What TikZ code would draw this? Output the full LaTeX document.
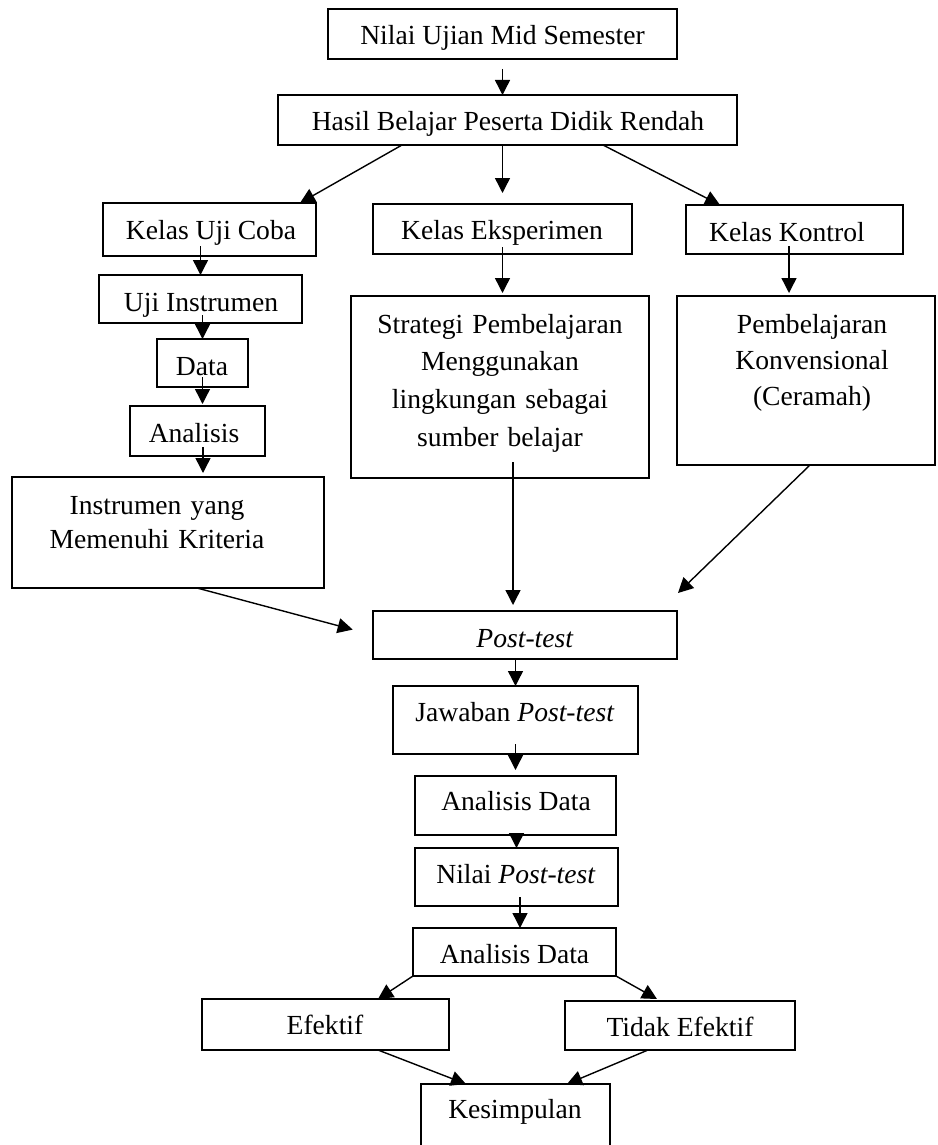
\documentclass[tikz,border=0pt]{standalone}
\usepackage{fontspec}
\setmainfont{Liberation Serif}
\usetikzlibrary{arrows.meta,calc}
\tikzset{
  box/.style={draw=black, line width=1.6pt, inner sep=0pt, outer sep=0pt, rectangle},
  txt/.style={inner sep=0pt, outer sep=0pt, font=\fontsize{27.6pt}{37.5pt}\selectfont},
  mtxt/.style={txt, align=center, text width=#1},
  arr/.style={line width=1.4pt, -{Triangle[length=15pt,width=15pt]}}
}
\newcommand{\bxn}[5]{\node[box, minimum width={(#4-#2)*1pt}, minimum height={(#5-#3)*1pt}] (#1) at ({(#2+#4)/2},{(#3+#5)/2}) {};}
\begin{document}
\begin{tikzpicture}[x=1pt,y=-1pt]
\useasboundingbox (0,0) rectangle (937,1145);
\clip (0,0) rectangle (937,1145);
% boxes
\bxn{n1}{328}{9}{677}{59}
\bxn{hasil}{278}{95}{737}{145}
\bxn{ujicoba}{103}{203}{316}{256}
\bxn{eksp}{373}{204}{632}{254}
\bxn{kontrol}{686}{205}{903}{254}
\bxn{ujiinst}{99}{275}{302}{323}
\bxn{data}{157}{339}{248}{387}
\bxn{analisis}{130}{406}{265}{456}
\bxn{instr}{12}{477}{324}{588}
\bxn{strat}{351}{296}{649}{478}
\bxn{konv}{677}{296}{935}{465}
\bxn{post}{373}{611}{677}{659}
\bxn{jaw}{393}{686}{638}{754}
\bxn{adA}{415}{776}{616}{835}
\bxn{nilai}{415}{848}{618}{906}
\bxn{adB}{413}{928}{616}{976}
\bxn{efektif}{202}{999}{449}{1050}
\bxn{tidak}{565}{1001}{795}{1050}
\bxn{kes}{421}{1084}{610}{1175}
% texts
\node[txt, anchor=base] (t1) at (502.5,45) {Nilai Ujian Mid Semester};
\node[txt, anchor=base] (t2) at (508,131) {Hasil Belajar Peserta Didik Rendah};
\node[txt, anchor=base] (t3) at (211,239) {Kelas Uji Coba};
\node[txt, anchor=base] (t4) at (502,239) {Kelas Eksperimen};
\node[txt, anchor=base] (t5) at (787,241) {Kelas Kontrol};
\node[txt, anchor=base] (t6) at (201,311) {Uji Instrumen};
\node[txt, anchor=base] (t7) at (202,375) {Data};
\node[txt, anchor=base] (t8) at (194,442) {Analisis};
\node[mtxt=300pt, anchor=base, font=\fontsize{27.6pt}{34.5pt}\selectfont] (t9) at (157,514) {Instrumen yang\\Memenuhi Kriteria};
\node[mtxt=290pt, anchor=base, font=\fontsize{27.6pt}{37.7pt}\selectfont] (t10) at (500,333) {Strategi Pembelajaran\\Menggunakan\\lingkungan sebagai\\sumber belajar};
\node[mtxt=250pt, anchor=base, font=\fontsize{27.6pt}{36pt}\selectfont] (t11) at (812,333) {Pembelajaran\\Konvensional\\(Ceramah)};
\node[txt, anchor=base] (t12) at (525,647) {\textit{Post-test}};
\node[txt, anchor=base] (t13) at (515,721) {Jawaban \textit{Post-test}};
\node[txt, anchor=base] (t14) at (516,810) {Analisis Data};
\node[txt, anchor=base] (t15) at (516,883) {Nilai \textit{Post-test}};
\node[txt, anchor=base] (t16) at (514.5,963) {Analisis Data};
\node[txt, anchor=base] (t17) at (325,1034) {Efektif};
\node[txt, anchor=base] (t18) at (680,1036) {Tidak Efektif};
\node[txt, anchor=base] (t19) at (515,1118) {Kesimpulan};
% connectors
\draw[arr, shorten <=10pt] (n1.south) -- (n1.south |- hasil.north);
\draw[arr] ($(hasil.south west)+(124,0)$) -- ($(ujicoba.north west)+(197,0)$);
\draw[arr, shorten >=11pt] (eksp.north |- hasil.south) -- (eksp.north);
\draw[arr] ($(hasil.south west)+(325,0)$) -- ($(kontrol.north west)+(34,0)$);
\draw[arr, shorten <=-10pt] (ujiinst.north |- ujicoba.south) -- (ujiinst.north);
\draw[arr, shorten <=-7pt, shorten >=3pt] (eksp.south) -- (eksp.south |- strat.north);
\draw[arr, shorten <=-8pt, shorten >=3pt] ($(kontrol.south)+(-5.5,0)$) -- ($(kontrol.south |- konv.north)+(-5.5,0)$);
\draw[arr, shorten <=-8pt] (data.north |- ujiinst.south) -- (data.north);
\draw[arr, shorten <=-10pt, shorten >=2pt] (data.south) -- (data.south |- analisis.north);
\draw[arr, shorten <=-9pt, shorten >=4pt] ($(analisis.south)+(5.5,0)$) -- ($(analisis.south |- instr.north)+(5.5,0)$);
\draw[arr, shorten >=21pt] ($(instr.south west)+(185,0)$) -- (post.west);
\draw[arr, shorten <=-16pt, shorten >=6pt] ($(strat.south)+(13,0)$) -- ($(strat.south |- post.north)+(13,0)$);
\draw[arr] ($(konv.south)+(4,0)$) -- ($(post.north east)+(1,-18)$);
\draw[arr] (jaw.north |- post.south) -- (jaw.north);
\draw[arr, shorten <=-10pt, shorten >=6pt] (adA.north |- jaw.south) -- (adA.north);
\draw[arr, shorten <=-10pt] (nilai.north |- adA.south) -- (nilai.north);
\draw[arr, shorten <=-9pt] ($(nilai.south)+(3.5,0)$) -- ($(nilai.south |- adB.north)+(3.5,0)$);
\draw[arr] (adB.south west) -- ($(efektif.north west)+(176,0)$);
\draw[arr] (adB.south east) -- ($(tidak.north west)+(92,-2)$);
\draw[arr] ($(efektif.south west)+(176,0)$) -- ($(kes.north west)+(45,0)$);
\draw[arr] ($(tidak.south west)+(83,0)$) -- ($(kes.north east)+(-43,0)$);
\end{tikzpicture}
\end{document}
